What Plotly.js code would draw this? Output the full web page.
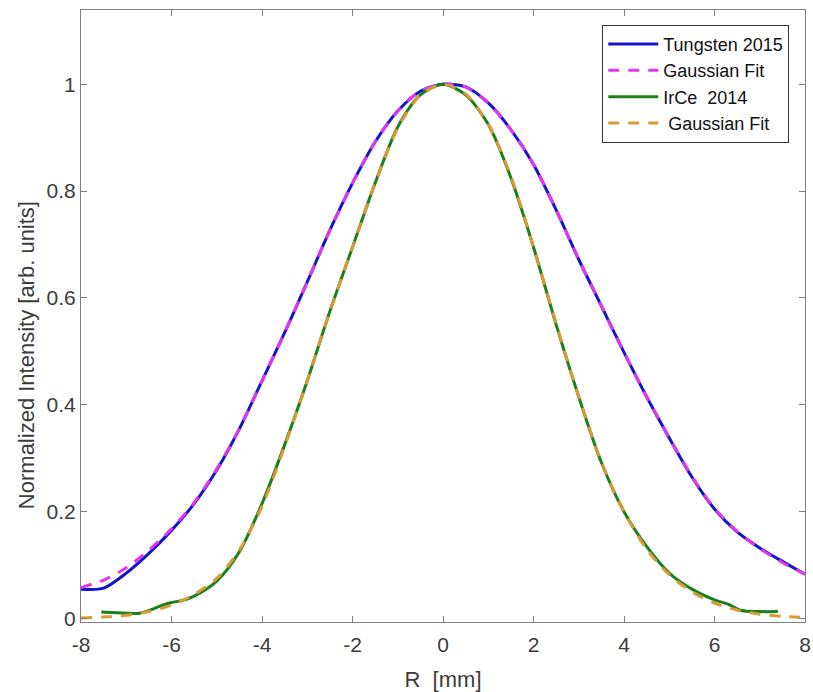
<!DOCTYPE html>
<html>
<head>
<meta charset="utf-8">
<script src="https://cdn.plot.ly/plotly-3.0.1.min.js"></script>
<style>html,body{margin:0;padding:0;background:#fff;}#chart{width:813px;height:692px;}</style>
</head>
<body>
<div id="chart"></div>
<script>
// ---- data ----
var tungstenX = [-8,-7.5,-7,-6.5,-6,-5.5,-5,-4.5,-4,-3.5,-3,-2.5,-2,-1.5,-1,-0.5,0,0.5,1,1.5,2,2.5,3,3.5,4,4.5,5,5.5,6,6.5,7,7.5,8];
var tungstenY = [0.055,0.057,0.085,0.122,0.165,0.215,0.278,0.355,0.445,0.535,0.630,0.727,0.815,0.892,0.950,0.987,1.0,0.995,0.965,0.915,0.850,0.765,0.672,0.585,0.498,0.415,0.338,0.265,0.205,0.162,0.132,0.107,0.083];

var tungstenFitX = [-8,-7.5,-7,-6.5,-6,-5.5,-5,-4.5,-4,-3.5,-3,-2.5,-2,-1.5,-1,-0.5,0,0.5,1,1.5,2,2.5,3,3.5,4,4.5,5,5.5,6,6.5,7,7.5,8];
var tungstenFitY = [0.058,0.072,0.095,0.128,0.168,0.217,0.280,0.355,0.445,0.535,0.630,0.727,0.815,0.892,0.950,0.987,1.0,0.995,0.965,0.915,0.850,0.765,0.672,0.585,0.498,0.415,0.338,0.266,0.206,0.163,0.131,0.105,0.083];

var irceX = [-7.55,-7.0,-6.7,-6.5,-6.2,-6.0,-5.75,-5.5,-5.0,-4.5,-4.0,-3.5,-3.0,-2.5,-2.0,-1.5,-1.0,-0.5,0,0.5,1.0,1.5,2.0,2.5,3.0,3.5,4.0,4.5,5.0,5.5,6.0,6.3,6.6,7.0,7.4];
var irceY = [0.012,0.010,0.010,0.015,0.025,0.030,0.034,0.042,0.070,0.125,0.215,0.325,0.445,0.575,0.695,0.815,0.920,0.980,1.0,0.980,0.925,0.825,0.695,0.550,0.415,0.292,0.200,0.135,0.085,0.055,0.035,0.027,0.015,0.013,0.013];

var irceFitX = [-8,-7.5,-7,-6.5,-6,-5.5,-5,-4.5,-4,-3.5,-3,-2.5,-2,-1.5,-1,-0.5,0,0.5,1,1.5,2,2.5,3,3.5,4,4.5,5,5.5,6,6.5,7,7.5,8];
var irceFitY = [0.001,0.003,0.006,0.013,0.025,0.045,0.075,0.128,0.210,0.322,0.445,0.575,0.695,0.815,0.918,0.980,1.0,0.982,0.925,0.828,0.695,0.552,0.415,0.293,0.200,0.130,0.082,0.050,0.029,0.016,0.008,0.004,0.002];

var seriesNames = ['Tungsten 2015', 'Gaussian Fit', 'IrCe\u00a0\u00a02014', '\u00a0Gaussian Fit'];
var xTickVals = [-8,-6,-4,-2,0,2,4,6,8];
var xTickText = ['-8','-6','-4','-2','0','2','4','6','8'];
var yTickVals = [0,0.2,0.4,0.6,0.8,1];
var yTickText = ['0','0.2','0.4','0.6','0.8','1'];
var xTitle = 'R\u00a0\u00a0[mm]';
var yTitle = 'Normalized Intensity [arb. units]';

var FONT = 'Liberation Sans, Arial, Helvetica, sans-serif';

var traces = [
  {x: tungstenX, y: tungstenY, name: seriesNames[0], mode: 'lines', legendgroup: 'a',
   line: {color: '#1414c8', width: 3, shape: 'spline', smoothing: 0.8}},
  {x: tungstenFitX, y: tungstenFitY, name: seriesNames[1], mode: 'lines', legendgroup: 'b',
   line: {color: '#e633f0', width: 3, dash: '11px,9px', shape: 'spline', smoothing: 0.8}},
  {x: irceX, y: irceY, name: seriesNames[2], mode: 'lines', legendgroup: 'c',
   line: {color: '#1a801a', width: 3, shape: 'spline', smoothing: 0.8}},
  {x: irceFitX, y: irceFitY, name: seriesNames[3], mode: 'lines', legendgroup: 'd',
   line: {color: '#d99a36', width: 3, dash: '11px,9px', shape: 'spline', smoothing: 0.8}}
];

var axisCommon = {
  showgrid: false, zeroline: false, showline: true, mirror: 'ticks',
  linecolor: '#7f7f7f', linewidth: 1, ticks: 'inside', ticklen: 6,
  tickcolor: '#7f7f7f', tickwidth: 1,
  tickfont: {family: FONT, size: 21, color: '#3c3c3c'},
  ticklabeloverflow: 'allow'
};

var layout = {
  width: 813, height: 692,
  margin: {l: 81, r: 8, t: 10, b: 70},
  paper_bgcolor: '#ffffff', plot_bgcolor: '#ffffff',
  showlegend: true,
  font: {family: FONT},
  xaxis: Object.assign({}, axisCommon, {
    range: [-8, 8], tickmode: 'array', tickvals: xTickVals, ticktext: xTickText,
    ticklabelstandoff: 4,
    title: {text: xTitle, font: {family: FONT, size: 22, color: '#3c3c3c'}, standoff: 16}
  }),
  yaxis: Object.assign({}, axisCommon, {
    range: [-0.0065, 1.139], tickmode: 'array', tickvals: yTickVals, ticktext: yTickText,
    ticklabelstandoff: 0
  }),
  legend: {
    x: 0.72, y: 0.976, xanchor: 'left', yanchor: 'top',
    bgcolor: '#ffffff', bordercolor: '#333333', borderwidth: 1,
    font: {family: FONT, size: 18, color: '#111111'},
    traceorder: 'grouped', tracegroupgap: 0, itemwidth: 50
  },
  annotations: [{
    text: yTitle, xref: 'paper', yref: 'paper', x: -0.076, y: 0.436,
    xanchor: 'center', yanchor: 'middle', textangle: -90, showarrow: false,
    font: {family: FONT, size: 22, color: '#3c3c3c'}
  }]
};

Plotly.newPlot('chart', traces, layout, {displayModeBar: false, staticPlot: true});
</script>
</body>
</html>
